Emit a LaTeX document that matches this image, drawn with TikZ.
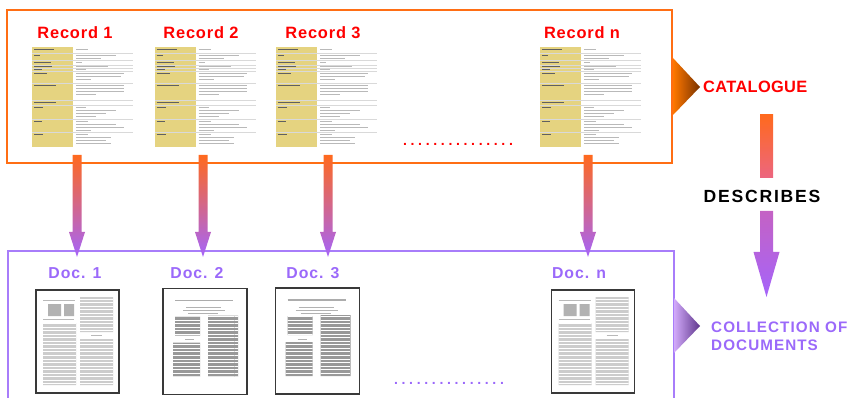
\documentclass[tikz,border=0pt]{standalone}
\usepackage{fontspec}
\setmainfont{Liberation Sans}
\usetikzlibrary{calc,patterns,positioning}

\definecolor{recred}{RGB}{255,0,0}
\definecolor{boxorange}{RGB}{255,110,20}
\definecolor{boxpurple}{RGB}{168,125,250}
\definecolor{docpurple}{RGB}{155,105,250}
\definecolor{arrorange}{RGB}{255,105,30}
\definecolor{arrpink}{RGB}{236,102,128}
\definecolor{arrmauve}{RGB}{196,98,196}
\definecolor{arrpurple}{RGB}{165,100,250}
\definecolor{formyellow}{RGB}{229,211,128}
\definecolor{triorange}{RGB}{255,120,0}
\definecolor{tribrown}{RGB}{120,50,0}
\definecolor{trililac}{RGB}{210,170,250}
\definecolor{triplum}{RGB}{95,55,140}

\begin{document}
\begin{tikzpicture}
[x=0.03cm, y=-0.03cm, line join=miter,
reclabel/.style={text=recred, inner sep=0pt, font=\fontsize{14}{16}\selectfont\bfseries\addfontfeature{LetterSpace=5}},
doclabel/.style={text=docpurple, inner sep=0pt, font=\fontsize{13.5}{15}\selectfont\bfseries\addfontfeature{LetterSpace=6}},
catlabel/.style={text=recred, inner sep=0pt, font=\fontsize{14}{16}\selectfont\bfseries\addfontfeature{LetterSpace=2}},
colllabel/.style={text=docpurple, inner sep=0pt, align=left, font=\fontsize{13}{15.4}\selectfont\bfseries\addfontfeature{LetterSpace=7}},
desclabel/.style={text=black, inner sep=0pt, font=\fontsize{15}{17}\selectfont\bfseries\addfontfeature{LetterSpace=10}},
moredots/.style={inner sep=0pt, font=\fontsize{12}{14}\selectfont\bfseries\addfontfeature{LetterSpace=26}},
recarrow/.style={top color=arrorange, middle color=arrpink, bottom color=arrpurple},
formbox/.style={rectangle, inner sep=0pt, minimum width=3.03cm, minimum height=3cm, fill=white},
pagebox/.style={rectangle, inner sep=0pt, fill=white, draw=gray!45!black, line width=1pt},
recform/.pic={
  \node[formbox] (-box) at (0,0) {};
  \begin{scope}[shift={(-50.5,-50)}]
  \fill[formyellow] (0,0) rectangle (41,100);
  \draw[gray!30, line width=0.3pt] (0,5.7) -- (101,5.7) (0,13.3) -- (101,13.3)
    (0,17.7) -- (101,17.7) (0,21) -- (101,21) (0,24.3) -- (101,24.3)
    (0,36) -- (101,36) (0,53.3) -- (101,53.3) (0,57.7) -- (101,57.7)
    (0,71.7) -- (101,71.7) (0,85) -- (101,85);
  \draw[gray!75!black, line width=0.7pt] (2,2.8) -- ++(20,0) (2,8.5) -- ++(6,0)
    (2,15.5) -- ++(17,0) (2,19.3) -- ++(18,0) (2,22.6) -- ++(8,0)
    (2,26.5) -- ++(13,0) (2,38.5) -- ++(22,0) (2,55.5) -- ++(22,0)
    (2,60) -- ++(9,0) (2,74) -- ++(8,0) (2,87.5) -- ++(9,0);
  \draw[gray!55, line width=0.6pt] (44,2.8) -- ++(12,0)
    (44,8) -- ++(40,0) (44,11) -- ++(25,0) (44,15.5) -- ++(6,0)
    (44,19.3) -- ++(32,0) (44,22.6) -- ++(10,0)
    (44,26.5) -- ++(48,0) (44,29.5) -- ++(45,0) (44,32.5) -- ++(15,0)
    (44,38.5) -- ++(48,0) (44,41.5) -- ++(48,0) (44,44.5) -- ++(48,0) (44,47.5) -- ++(20,0)
    (44,60) -- ++(10,0) (44,63) -- ++(40,0) (44,66) -- ++(30,0) (44,69) -- ++(20,0)
    (44,74) -- ++(12,0) (44,77) -- ++(40,0) (44,80) -- ++(48,0) (44,83) -- ++(15,0)
    (44,87.5) -- ++(12,0) (44,90.5) -- ++(35,0) (44,93.5) -- ++(30,0) (44,96.5) -- ++(35,0);
  \end{scope}},
docA/.pic={
  \node[pagebox, minimum width=2.49cm, minimum height=3.09cm] (-box) at (0,0) {};
  \begin{scope}[shift={(-41.5,-51.5)}]
  \draw[gray!55, line width=0.6pt] (7,10) -- (39,10) (7,29) -- (38,29) (55,45) -- (66,45);
  \fill[gray!60] (12,14) rectangle (25,26) (28,14) rectangle (38,26);
  \fill[gray!40] (7,33) rectangle (40,95) (44,7) rectangle (77,42) (44,49) rectangle (77,95);
  \fill[pattern=horizontal lines, pattern color=white] (7,33) rectangle (40,95)
    (44,7) rectangle (77,42) (44,49) rectangle (77,95);
  \end{scope}},
docB/.pic={
  \node[pagebox, minimum width=2.52cm, minimum height=3.18cm] (-box) at (0,0) {};
  \begin{scope}[shift={(-42,-53)}]
  \draw[gray!65, line width=1.1pt] (12,12) -- (70,12);
  \draw[gray!60, line width=0.6pt] (23,19) -- (58,19) (20,22) -- (62,22) (25,25) -- (55,25)
    (22,51) -- (31,51);
  \fill[gray!80] (12,28) rectangle (37,47) (10,54) rectangle (37,88) (45,27) rectangle (75,88);
  \fill[pattern=horizontal lines, pattern color=white] (12,28) rectangle (37,47)
    (10,54) rectangle (37,88) (45,27) rectangle (75,88);
  \end{scope}}]

\useasboundingbox (0,0) rectangle (859,398);

% catalogue
\draw[boxorange, line width=1.6pt] (7,10) rectangle (672,163);
\shade[left color=triorange, right color=tribrown] (673,58) -- (700,87) -- (673,115) -- cycle;
\node[catlabel, anchor=west] (cat) at (703,87) {CATALOGUE};

\node[reclabel] (rec1) at (75,33) {Record 1};
\node[reclabel] (rec2) at (201,33) {Record 2};
\node[reclabel] (rec3) at (323,33) {Record 3};
\node[reclabel] (recn) at (582,33) {Record n};

\pic (form1) at (82.5,97) {recform};
\pic (form2) at (205,97) {recform};
\pic (form3) at (326.5,97) {recform};
\pic (formn) at (590.5,97) {recform};

\node[moredots, text=recred] (recdots) at (458,144) {...............};

% collection of documents
\draw[boxpurple, line width=1.6pt] (8,400) -- (8,251) -- (674,251) -- (674,400);
\shade[left color=trililac, right color=triplum] (674,298) -- (700,326) -- (674,353) -- cycle;
\node[colllabel, anchor=west] (coll) at (711,336) {COLLECTION OF\\DOCUMENTS};

\node[doclabel] (doc1) at (75,273) {Doc. 1};
\node[doclabel] (doc2) at (197,273) {Doc. 2};
\node[doclabel] (doc3) at (313,273) {Doc. 3};
\node[doclabel] (docn) at (579,273) {Doc. n};

\pic (page1) at (77.5,341.5) {docA};
\pic (page2) at (205,341.5) {docB};
\pic (page3) at (317.5,341) {docB};
\pic (pagen) at (593,341.5) {docA};

\node[moredots, text=docpurple] (docdots) at (449,383) {...............};

% arrows record -> document
\coordinate (a1) at (77,155);   \coordinate (b1) at (77,257);
\coordinate (a2) at (203,155);  \coordinate (b2) at (203,257);
\coordinate (a3) at (328,155);  \coordinate (b3) at (328,257);
\coordinate (an) at (588,155);  \coordinate (bn) at (588,257);

\shade[recarrow] (a1) ++(-4.5,0) -- ++(9,0) -- ++(0,77) -- ++(3.5,0) -- (b1) -- ++(-8,-25) -- ++(3.5,0) -- cycle;
\shade[recarrow] (a2) ++(-4.5,0) -- ++(9,0) -- ++(0,77) -- ++(3.5,0) -- (b2) -- ++(-8,-25) -- ++(3.5,0) -- cycle;
\shade[recarrow] (a3) ++(-4.5,0) -- ++(9,0) -- ++(0,77) -- ++(3.5,0) -- (b3) -- ++(-8,-25) -- ++(3.5,0) -- cycle;
\shade[recarrow] (an) ++(-4.5,0) -- ++(9,0) -- ++(0,77) -- ++(3.5,0) -- (bn) -- ++(-8,-25) -- ++(3.5,0) -- cycle;

% describes
\node[desclabel] (desc) at (762,196) {DESCRIBES};
\coordinate (d1) at (766.5,115);
\coordinate (d2) at (766.5,178);
\coordinate (d3) at (766.5,211);
\coordinate (d4) at (766.5,297);

\shade[top color=arrorange, bottom color=arrpink] (d1) ++(-6.5,0) rectangle ($(d2)+(6.5,0)$);
\shade[top color=arrmauve, bottom color=arrpurple] (d3) ++(-6.5,0) -- ++(13,0) -- ++(0,41) -- ++(6.5,0) -- (d4) -- ++(-13,-45) -- ++(6.5,0) -- cycle;

\end{tikzpicture}
\end{document}
